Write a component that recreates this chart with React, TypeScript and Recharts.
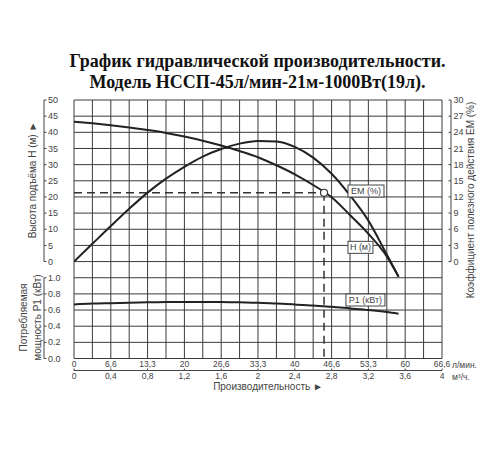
import { ComposedChart, Line, XAxis, YAxis, CartesianGrid, ReferenceLine, ReferenceDot, Label } from 'recharts'

// flow, l/min
const FLOW = [0, 3.33, 6.67, 10, 13.33, 16.67, 20, 23.33, 26.67, 30, 33.33, 36.67, 40, 43.33, 46.67, 50, 53.33, 56.67, 58.8]
// head H, m
const HEAD = [43.3, 42.8, 42.2, 41.5, 40.7, 39.8, 38.7, 37.4, 35.9, 34.2, 32.3, 29.8, 27.0, 23.7, 19.9, 14.4, 8.6, 1.6, -4.7]
// efficiency EM, %
const EFF = [0, 3.3, 6.6, 9.8, 12.8, 15.4, 17.6, 19.5, 20.9, 21.9, 22.4, 22.3, 21.3, 19.3, 16.3, 12.3, 7.6, 1.3, -2.8]
// power P1, kW
const POWER = [0.67, 0.68, 0.685, 0.69, 0.695, 0.7, 0.7, 0.7, 0.7, 0.695, 0.69, 0.68, 0.67, 0.655, 0.64, 0.62, 0.6, 0.575, 0.555]

const FLOW_GRID = [0, 3.33, 6.67, 10, 13.33, 16.67, 20, 23.33, 26.67, 30, 33.33, 36.67, 40, 43.33, 46.67, 50, 53.33, 56.67, 60, 63.33, 66.67]
const FLOW_LABELS = ['0', '6,6', '13,3', '20', '26,6', '33,3', '40', '46,6', '53,3', '60', '66,6']
const M3H_LABELS = ['0', '0,4', '0,8', '1,2', '1,6', '2', '2,4', '2,8', '3,2', '3,6', '4']
const HEAD_GRID = [-30, -25, -20, -15, -10, -5, 0, 5, 10, 15, 20, 25, 30, 35, 40, 45, 50]
const EFF_TICKS = [0, 3, 6, 9, 12, 15, 18, 21, 24, 27, 30]
const POWER_TICKS = [0, 0.2, 0.4, 0.6, 0.8, 1.0]

// duty point 45 l/min, 21 m
const DUTY_FLOW = 45.3
const DUTY_HEAD = 21.3

const data = FLOW.map((q, i) => ({ q, h: HEAD[i], em: EFF[i], p: POWER[i] }))

const W = 500
const H = 450
const MARGIN = { top: 100, right: 57, bottom: 67.5, left: 72 }
const X_AXIS_H = 24
const PLOT_W = W - MARGIN.left - MARGIN.right - 3
const ROW = (H - MARGIN.top - MARGIN.bottom - X_AXIS_H) / 16
const CELL = PLOT_W / 20
const AXIS_GAP = 30
const FONT = '"Liberation Sans", Arial, sans-serif'
const INK = '#222'
const GREY = '#444'

function ScaleTick(props: any) {
  const { x, y, payload, side, lo, hi, gap, fmt } = props
  const v = payload.value
  if (v < lo || v > hi) return null
  const left = side === 'left'
  const ax = left ? x - gap : x + 9
  return (
    <g>
      {v < hi && <line x1={ax} x2={ax} y1={y} y2={y - ROW} stroke={GREY} strokeWidth={1} />}
      <line x1={left ? ax : ax - 2.5} x2={left ? ax + 2.5 : ax} y1={y} y2={y} stroke={GREY} strokeWidth={1} />
      <text x={left ? ax + 4 : ax + 2.6} y={y} dy="0.35em" fontSize={9} fill={GREY} fontFamily={FONT}>
        {fmt(v)}
      </text>
    </g>
  )
}

// l/min row, then the m³/h row under its own baseline
function FlowTick(props: any) {
  const { x, y, payload } = props
  const i = FLOW_GRID.indexOf(payload.value)
  if (i < 0 || i % 2) return null
  const k = i / 2
  const lineY = y + 12
  return (
    <g fontSize={8.5} fill={GREY} fontFamily={FONT} textAnchor="middle">
      <text x={x} y={y + 6} dy="0.35em">{FLOW_LABELS[k]}</text>
      {i < FLOW_GRID.length - 1 && <line x1={x} x2={x + 2 * CELL} y1={lineY} y2={lineY} stroke={GREY} />}
      <line x1={x} x2={x} y1={lineY - 2} y2={lineY} stroke={GREY} />
      <text x={x} y={y + 17.5} dy="0.35em">{M3H_LABELS[k]}</text>
    </g>
  )
}

function TagBox(text: string, w: number) {
  return (props: any) => (
    <g>
      <rect x={props.cx - w / 2} y={props.cy - 6} width={w} height={12} fill="#fff" stroke={GREY} strokeWidth={1} />
      <text x={props.cx} y={props.cy} dy="0.35em" textAnchor="middle" fontSize={9} fill={GREY} fontFamily={FONT}>
        {text}
      </text>
    </g>
  )
}

export default function App() {
  return (
    <div style={{ position: 'absolute', left: 0, top: 0, width: W, height: H, background: '#fff' }}>
      <ComposedChart width={W} height={H} data={data} margin={MARGIN}>
        <CartesianGrid xAxisId="lpm" yAxisId="h" stroke="#3a3a3a" strokeWidth={1} fill="none" />
        <XAxis
          xAxisId="lpm"
          dataKey="q"
          type="number"
          domain={[0, 66.67]}
          allowDataOverflow
          ticks={FLOW_GRID}
          interval={0}
          height={X_AXIS_H}
          axisLine={false}
          tickLine={false}
          tickSize={0}
          tickMargin={0}
          tick={<FlowTick />}
        >
          <Label value="л/мин." position="right" offset={10} dy={-6} fontSize={8.5} fill={GREY} fontFamily={FONT} />
          <Label value="м³/ч." position="right" offset={10} dy={6} fontSize={8.5} fill={GREY} fontFamily={FONT} />
        </XAxis>
        <YAxis
          yAxisId="h"
          type="number"
          domain={[-30, 50]}
          allowDataOverflow
          ticks={HEAD_GRID}
          interval={0}
          width={1}
          axisLine={false}
          tickLine={false}
          tickSize={0}
          tickMargin={0}
          tick={(p: any) => <ScaleTick {...p} side="left" gap={AXIS_GAP} lo={0} hi={50} fmt={(v: number) => String(v)} />}
        />
        <YAxis
          yAxisId="p"
          type="number"
          domain={[0, 3.2]}
          allowDataOverflow
          ticks={POWER_TICKS}
          interval={0}
          width={1}
          axisLine={false}
          tickLine={false}
          tickSize={0}
          tickMargin={0}
          tick={(p: any) => <ScaleTick {...p} side="left" gap={AXIS_GAP - 1} lo={0} hi={1} fmt={(v: number) => v.toFixed(1)} />}
        />
        <YAxis
          yAxisId="em"
          orientation="right"
          type="number"
          domain={[-18, 30]}
          allowDataOverflow
          ticks={EFF_TICKS}
          interval={0}
          width={1}
          axisLine={false}
          tickLine={false}
          tickSize={0}
          tickMargin={0}
          tick={(p: any) => <ScaleTick {...p} side="right" lo={0} hi={30} fmt={(v: number) => String(v)} />}
        />

        <ReferenceLine
          xAxisId="lpm"
          yAxisId="h"
          segment={[{ x: 0, y: DUTY_HEAD }, { x: DUTY_FLOW, y: DUTY_HEAD }]}
          stroke="#333"
          strokeWidth={1.5}
          strokeDasharray="8 5"
        />
        <ReferenceLine
          xAxisId="lpm"
          yAxisId="h"
          segment={[{ x: DUTY_FLOW, y: DUTY_HEAD }, { x: DUTY_FLOW, y: -30 }]}
          stroke="#333"
          strokeWidth={1.5}
          strokeDasharray="8 5"
        />

        <Line xAxisId="lpm" yAxisId="h" dataKey="h" type="monotone" stroke={INK} strokeWidth={2} dot={false} isAnimationActive={false} />
        <Line xAxisId="lpm" yAxisId="em" dataKey="em" type="monotone" stroke={INK} strokeWidth={2} dot={false} isAnimationActive={false} />
        <Line xAxisId="lpm" yAxisId="p" dataKey="p" type="monotone" stroke={INK} strokeWidth={2} dot={false} isAnimationActive={false} />

        <ReferenceDot xAxisId="lpm" yAxisId="h" x={DUTY_FLOW} y={DUTY_HEAD} r={3.5} fill="#fff" stroke="#333" strokeWidth={1.2} />
        <ReferenceDot xAxisId="lpm" yAxisId="em" x={52.9} y={13.1} shape={TagBox('EM (%)', 36)} />
        <ReferenceDot xAxisId="lpm" yAxisId="h" x={51.9} y={4.4} shape={TagBox('H (м)', 25)} />
        <ReferenceDot xAxisId="lpm" yAxisId="p" x={52.8} y={0.724} shape={TagBox('P1 (кВт)', 39)} />
      </ComposedChart>

      <svg width={W} height={H} style={{ position: 'absolute', left: 0, top: 0, pointerEvents: 'none' }}>
        <g fontFamily='"Liberation Serif", "Times New Roman", serif' fontWeight="bold" fontSize={18} fill="#111" textAnchor="middle">
          <text x={257.5} y={66.7}>График гидравлической производительности.</text>
          <text x={257.5} y={88.3}>Модель НССП-45л/мин-21м-1000Вт(19л).</text>
        </g>
        <g fontFamily={FONT} fontSize={10} fill={GREY} textAnchor="middle">
          <text transform="translate(32.5,180) rotate(-90)" dy="0.35em">Высота подъёма H (м) ►</text>
          <text transform="translate(23.7,317.5) rotate(-90)" dy="0.35em">Потребляемая</text>
          <text transform="translate(37.2,317.5) rotate(-90)" dy="0.35em">мощность P1 (кВт)</text>
          <text transform="translate(470.8,200) rotate(-90)" dy="0.35em">Коэффициент полезного действия EM (%)</text>
          <text x={268} y={390}>Производительность ►</text>
        </g>
      </svg>
    </div>
  )
}
